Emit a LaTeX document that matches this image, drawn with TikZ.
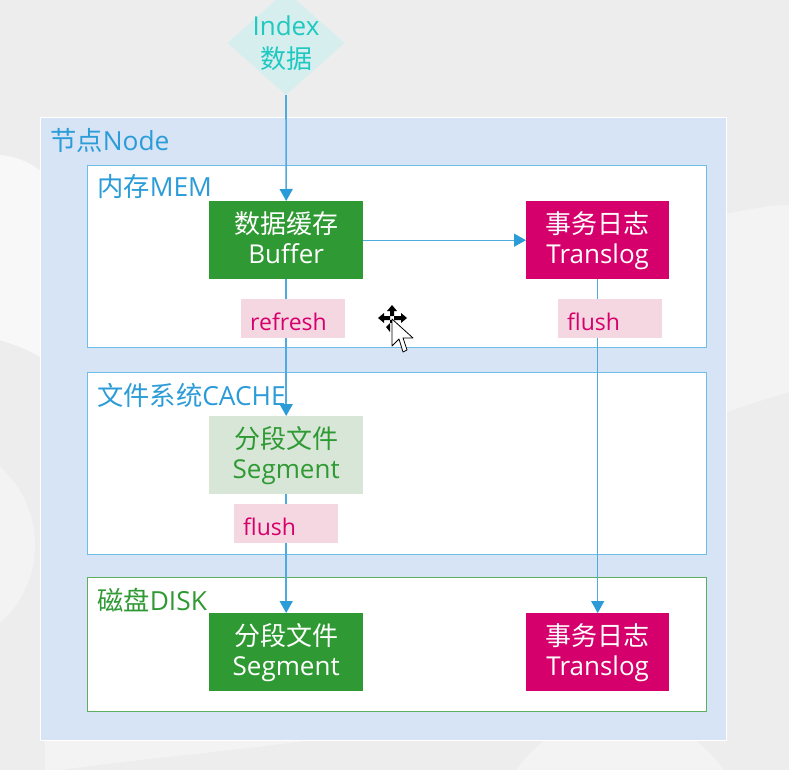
\documentclass[tikz,border=0pt]{standalone}
\usepackage{fontspec}
\setmainfont{Open Sans}
\newfontfamily\cjk{Noto Sans CJK SC}
\usetikzlibrary{shapes.geometric,arrows.meta}
\definecolor{bgc}{HTML}{EDEDED}
\definecolor{blob}{HTML}{F3F3F3}
\definecolor{nodeblue}{HTML}{D6E4F5}
\definecolor{lineblue}{HTML}{4FAADF}
\definecolor{areablue}{HTML}{6DBDE8}
\definecolor{txtblue}{HTML}{2B9CD8}
\definecolor{grn}{HTML}{2F9A33}
\definecolor{areagrn}{HTML}{5DAF5F}
\definecolor{mag}{HTML}{D6006C}
\definecolor{lgrn}{HTML}{D8E6D8}
\definecolor{lpink}{HTML}{F5D7E2}
\definecolor{teal}{HTML}{1FC8C0}
\definecolor{lteal}{HTML}{D6EEEE}
\newcommand\lnstrut{\rule[-5.5pt]{0pt}{24.5pt}}
\newcommand\twolines[2]{\lnstrut{\cjk #1}\\\lnstrut #2}
\newcommand\tagtext[1]{\raisebox{-11.5pt}[0pt][0pt]{#1}}
\tikzset{
  x=1pt,y=-1pt,
  area/.style={draw=#1,line width=1.1pt,fill=white,anchor=north west,inner sep=0pt},
  tbox/.style={anchor=north west,minimum width=#1,minimum height=78pt,inner sep=0pt,align=center,font=\fontsize{26}{30}\selectfont},
  greenbox/.style={tbox=154pt,fill=grn,text=white},
  palebox/.style={tbox=154pt,fill=lgrn,text=grn},
  redbox/.style={tbox=143pt,fill=mag,text=white},
  tag/.style={anchor=north west,minimum width=104pt,minimum height=39pt,inner sep=0pt,fill=lpink,text=mag,font=\fontsize{23}{28}\selectfont,text width=86pt,align=left},
  title/.style={anchor=west,inner sep=0pt,font=\fontsize{26.3}{30}\selectfont},
  conn/.style={draw=lineblue,line width=1.1pt},
  arrowconn/.style={conn,-{Triangle[length=12pt,width=13pt,color=txtblue]}},
  thickconn/.style={arrowconn,line width=1.6pt}
}
\begin{document}
\begin{tikzpicture}
\useasboundingbox (0,0) rectangle (789,770);
\clip (0,0) rectangle (789,770);
\fill[bgc] (0,0) rectangle (789,770);
\fill[blob] (-70,545) circle (105);
\fill[blob!60!white] (0,155) .. controls (20,157) and (35,165) .. (45,175) -- (45,360) .. controls (30,350) and (15,345) .. (0,340) -- cycle;
\fill[blob] (720,215) .. controls (745,210) and (770,205) .. (789,205) -- (789,392) .. controls (770,398) and (745,405) .. (720,415) -- cycle;
\fill[blob] (620,840) circle (125);
\fill[blob] (45,735) -- (345,735) .. controls (250,750) and (170,755) .. (60,770) -- (45,770) -- cycle;
% areas
\node[fill=nodeblue,draw=white,line width=1pt,anchor=north west,minimum width=686pt,minimum height=623pt,inner sep=0pt] (outer) at (40,117) {};
\node[area=areablue,minimum width=619pt,minimum height=182pt] (mem) at (87,165) {};
\node[area=areablue,minimum width=619pt,minimum height=182pt] (cache) at (87,372) {};
\node[area=areagrn,minimum width=619pt,minimum height=134pt] (disk) at (87,577) {};
\node[title,text=txtblue] (tnode) at (50,140) {{\cjk 节点}Node};
\node[title,text=txtblue] (tmem) at (97,187) {{\cjk 内存}MEM};
\node[title,text=txtblue] (tcache) at (97,395) {{\cjk 文件系统}CACHE};
\node[title,text=grn] (tdisk) at (97,600) {{\cjk 磁盘}DISK};
% boxes
\node[diamond,fill=lteal,minimum width=117pt,minimum height=104pt,inner sep=0pt,anchor=center] (index) at (286,43) {};
\node[text=teal,font=\fontsize{26}{33}\selectfont,align=center,inner sep=0pt] (indext) at (286,45) {\lnstrut Index\\\lnstrut{\cjk 数据}};
\node[greenbox] (buffer) at (209,201) {\twolines{数据缓存}{Buffer}};
\node[redbox] (log1) at (526,201) {\twolines{事务日志}{Translog}};
\node[palebox] (seg1) at (209,416) {\twolines{分段文件}{Segment}};
\node[greenbox] (seg2) at (209,613) {\twolines{分段文件}{Segment}};
\node[redbox] (log2) at (526,613) {\twolines{事务日志}{Translog}};
% connectors
\draw[thickconn] (index.south) -- (buffer.north);
\draw[arrowconn] (buffer.east) -- (log1.west);
\draw[thickconn] (buffer.south) -- (seg1.north);
\draw[thickconn] (seg1.south) -- (seg2.north);
\draw[arrowconn] (log1.south) -- (log2.north);
% tags
\node[tag] (refresh) at (241,299) {\tagtext{refresh}};
\node[tag] (flusha) at (558,299) {\tagtext{flush}};
\node[tag] (flushb) at (234,504) {\tagtext{flush}};
% cursor
\begin{scope}[shift={(392,318)}]
\fill[black] (0,-13) -- (-5,-7) -- (-2,-7) -- (-2,-2) -- (2,-2) -- (2,-7) -- (5,-7) -- cycle;
\fill[black] (-14,0) -- (-8,-5) -- (-8,-2) -- (-2,-2) -- (-2,2) -- (-8,2) -- (-8,5) -- cycle;
\fill[black] (15,0) -- (9,-5) -- (9,-2) -- (2,-2) -- (2,2) -- (9,2) -- (9,5) -- cycle;
\fill[black] (-2,2) rectangle (2,5);
\fill[black] (-6,9) -- (-2,5) -- (-2,14) -- cycle;
\draw[black,fill=white,line width=.8pt,line join=round] (0,1) -- (0,28) -- (7,21) -- (11,34) -- (15,32) -- (11,20) -- (21,20) -- cycle;
\end{scope}
\end{tikzpicture}
\end{document}
